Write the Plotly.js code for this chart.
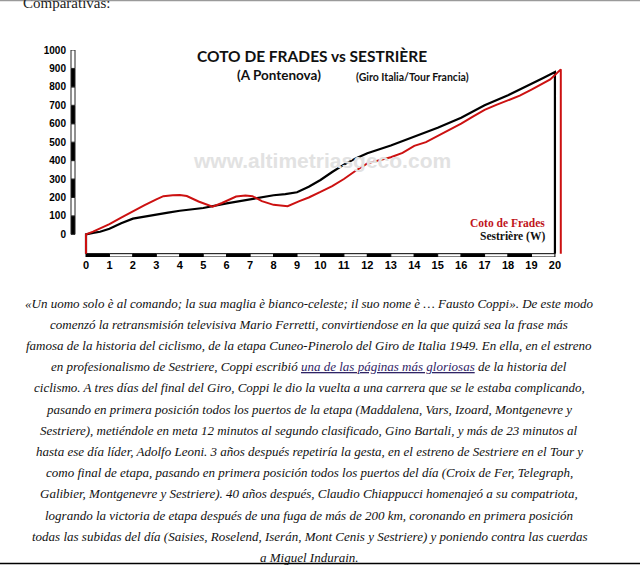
<!DOCTYPE html>
<html>
<head>
<meta charset="utf-8">
<script src="https://cdn.plot.ly/plotly-3.0.1.min.js"></script>
<style>html,body{margin:0;padding:0;background:#fff;}#chart{width:640px;height:565px;}</style>
</head>
<body>
<div id="chart"></div>
<script>
// ---- data ----
var sestriereKm  = [0, 0.3, 0.6, 1.0, 1.5, 2.0, 2.5, 3.0, 3.5, 4.0, 5.0, 6.0, 7.0, 8.0, 8.5, 9.0, 9.5, 10.0, 10.5, 11.0, 11.5, 12.0, 13.0, 14.0, 15.0, 16.0, 17.0, 18.0, 19.0, 19.5, 20.0];
var sestriereAlt = [0, 8, 14, 30, 60, 85, 97, 107, 118, 128, 143, 168, 192, 212, 218, 228, 258, 295, 338, 378, 412, 440, 482, 530, 578, 632, 700, 755, 815, 848, 880];
var cotoKm  = [0, 0.3, 0.6, 1.0, 1.5, 2.0, 2.5, 3.0, 3.3, 3.7, 4.0, 4.3, 4.8, 5.4, 5.8, 6.4, 6.8, 7.1, 7.5, 8.0, 8.6, 9.1, 9.5, 10.0, 10.5, 11.0, 11.5, 12.0, 12.5, 13.0, 13.5, 14.0, 14.5, 15.0, 15.5, 16.0, 16.5, 17.0, 17.5, 18.0, 18.5, 19.0, 19.5, 19.8, 20.25];
var cotoAlt = [0, 15, 31, 55, 90, 125, 158, 190, 207, 212, 213, 208, 178, 150, 170, 205, 210, 207, 180, 160, 153, 180, 200, 230, 262, 300, 345, 385, 400, 418, 442, 480, 500, 532, 565, 600, 638, 675, 702, 725, 752, 785, 818, 840, 895];
var baseAlt = -105;
var xTicks = [0,1,2,3,4,5,6,7,8,9,10,11,12,13,14,15,16,17,18,19,20];
var yTicks = [0,100,200,300,400,500,600,700,800,900,1000];
var seriesNames = ["Coto de Frades", "Sestrière (W)"];
var titleMain = "COTO DE FRADES vs SESTRIÈRE";
var titleSub1 = "(A Pontenova)";
var titleSub2 = "(Giro Italia/Tour Francia)";
var watermark = "www.altimetriasgeco.com";
var header = "Comparativas:";
var bodyLines = [
 "«Un uomo solo è al comando; la sua maglia è bianco-celeste; il suo nome è … Fausto Coppi». De este modo",
 "comenzó la retransmisión televisiva Mario Ferretti, convirtiendose en la que quizá sea la frase más",
 "famosa de la historia del ciclismo, de la etapa Cuneo-Pinerolo del Giro de Italia 1949. En ella, en el estreno",
 "en profesionalismo de Sestriere, Coppi escribió <span style='color:#2f2466'><u>una de las páginas más gloriosas</u></span> de la historia del",
 "ciclismo. A tres días del final del Giro, Coppi le dio la vuelta a una carrera que se le estaba complicando,",
 "pasando en primera posición todos los puertos de la etapa (Maddalena, Vars, Izoard, Montgenevre y",
 "Sestriere), metiéndole en meta 12 minutos al segundo clasificado, Gino Bartali, y más de 23 minutos al",
 "hasta ese día líder, Adolfo Leoni. 3 años después repetiría la gesta, en el estreno de Sestriere en el Tour y",
 "como final de etapa, pasando en primera posición todos los puertos del día (Croix de Fer, Telegraph,",
 "Galibier, Montgenevre y Sestriere). 40 años después, Claudio Chiappucci homenajeó a su compatriota,",
 "logrando la victoria de etapa después de una fuga de más de 200 km, coronando en primera posición",
 "todas las subidas del día (Saisies, Roselend, Iserán, Mont Cenis y Sestriere) y poniendo contra las cuerdas",
 "a Miguel Indurain."
];

// ---- layout geometry ----
var L = 71, T = 50, PW = 498, PH = 207, W = 640, H = 565;
function px(x){ return (x - L) / PW; }
function py(y){ return (T + PH - y) / PH; }

function withBase(xs, ys){
  return {x: [xs[0]].concat(xs, [xs[xs.length-1]]), y: [baseAlt].concat(ys, [baseAlt])};
}
var s = withBase(sestriereKm, sestriereAlt);
var c = withBase(cotoKm, cotoAlt);

var traces = [
  {type:'scatter', mode:'lines', x:s.x, y:s.y, name:seriesNames[1], line:{color:'#000000', width:2.2}, hoverinfo:'skip'},
  {type:'scatter', mode:'lines', x:c.x, y:c.y, name:seriesNames[0], line:{color:'#cc1111', width:2}, hoverinfo:'skip'}
];

var shapes = [];
// x-axis checker bar
for (var i = 0; i < xTicks.length - 1; i++) {
  shapes.push({type:'rect', xref:'x', yref:'y', x0:xTicks[i], x1:xTicks[i+1], y0:-123, y1:baseAlt,
    fillcolor: i % 2 === 0 ? '#000' : '#fff', line:{color:'#000', width:1}, layer:'below'});
}
// y-axis checker bar
for (var j = 0; j < yTicks.length - 1; j++) {
  shapes.push({type:'rect', xref:'paper', yref:'y', x0:0, x1:4/PW, y0:yTicks[j], y1:yTicks[j+1],
    fillcolor: j % 2 === 0 ? '#000' : '#fff', line:{color:'#222', width:1}, layer:'below'});
}
// page decorations
shapes.push({type:'line', xref:'paper', yref:'paper', x0:px(0), x1:px(W), y0:py(0.5), y1:py(0.5), line:{color:'#9a9a9a', width:1.5}});
shapes.push({type:'line', xref:'paper', yref:'paper', x0:px(0), x1:px(W), y0:py(563.5), y1:py(563.5), line:{color:'#000', width:1.5}});

var annotations = [
  {text:titleMain, x:px(311.5), y:py(56), xref:'paper', yref:'paper', showarrow:false, xanchor:'center', yanchor:'middle',
   font:{family:'Lato', size:15.5, color:'#111', weight:'bold'}},
  {text:titleSub1, x:px(278.5), y:py(74.5), xref:'paper', yref:'paper', showarrow:false, xanchor:'center', yanchor:'middle',
   font:{family:'Lato', size:13.5, color:'#111', weight:'bold'}},
  {text:titleSub2, x:px(412.5), y:py(77), xref:'paper', yref:'paper', showarrow:false, xanchor:'center', yanchor:'middle',
   font:{family:'Lato', size:10.5, color:'#111', weight:'bold'}},
  {text:watermark, x:px(321.5), y:py(160.5), xref:'paper', yref:'paper', showarrow:false, xanchor:'center', yanchor:'middle',
   font:{family:'Liberation Sans', size:21, color:'#e2e2e2', weight:'bold'}},
  {text:seriesNames[0], x:px(547), y:py(223), xref:'paper', yref:'paper', showarrow:false, xanchor:'right', yanchor:'middle',
   font:{family:'Liberation Serif', size:11.5, color:'#c0141c', weight:'bold'}},
  {text:seriesNames[1], x:px(547), y:py(236), xref:'paper', yref:'paper', showarrow:false, xanchor:'right', yanchor:'middle',
   font:{family:'Liberation Serif', size:11.5, color:'#111', weight:'bold'}},
  {text:header, x:px(21), y:py(3.5), xref:'paper', yref:'paper', showarrow:false, xanchor:'left', yanchor:'middle',
   font:{family:'Liberation Serif', size:15, color:'#222'}}
];
for (var k = 0; k < bodyLines.length; k++) {
  annotations.push({text:'<i>' + bodyLines[k] + '</i>', x:px(309), y:py(303 + 21.2*k), xref:'paper', yref:'paper',
    showarrow:false, xanchor:'center', yanchor:'middle',
    font:{family:'Liberation Serif', size:13, color:'#111'}});
}

var layout = {
  width:W, height:H, autosize:false,
  margin:{l:L, r:W-L-PW, t:T, b:H-T-PH, pad:0},
  paper_bgcolor:'#fff', plot_bgcolor:'#fff', showlegend:false,
  xaxis:{range:[-0.64, 20.6], tickvals:xTicks, ticktext:xTicks.map(String), showgrid:false, zeroline:false, showline:false,
    ticks:'', tickfont:{family:'Liberation Sans', size:11, color:'#000', weight:'bold'}, fixedrange:true},
  yaxis:{range:[-123, 1000], tickvals:yTicks, ticktext:yTicks.map(String), showgrid:false, zeroline:false, showline:false,
    ticks:'', ticklabelstandoff:4, tickfont:{family:'Liberation Sans', size:10, color:'#000', weight:'bold'}, fixedrange:true},
  shapes:shapes, annotations:annotations
};
Plotly.newPlot('chart', traces, layout, {staticPlot:true, displayModeBar:false});
</script>
</body>
</html>
